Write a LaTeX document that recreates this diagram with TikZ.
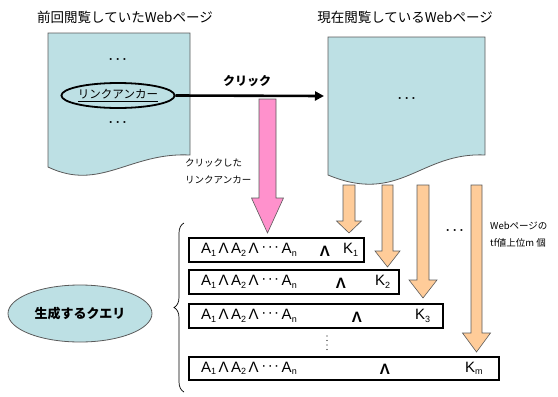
\documentclass[tikz,border=0pt]{standalone}
\usepackage{fontspec}
\setmainfont{Liberation Sans}
\newfontfamily\jp{Noto Sans CJK JP}
\usetikzlibrary{shapes.geometric,arrows.meta,decorations.pathreplacing}
\definecolor{pagefill}{RGB}{189,224,228}
\definecolor{pageline}{RGB}{90,90,90}
\definecolor{pinkfill}{RGB}{255,145,204}
\definecolor{orangefill}{RGB}{255,204,153}
\newcommand{\fatdown}[7]{\draw[#1] (#2-#3,#4) -- (#2+#3,#4) -- (#2+#3,#5) -- (#2+#6,#5) -- (#2,#7) -- (#2-#6,#5) -- (#2-#3,#5) -- cycle;}
\newcommand{\lowsub}[1]{\raisebox{-2.5pt}{\fontsize{9}{9}\selectfont #1}}
\newcommand{\andexpr}{A\lowsub{1}\,Λ\,A\lowsub{2}\,Λ\,\raisebox{2pt}{·\hspace{1.5pt}·\hspace{1.5pt}·}\,A\lowsub{n}}
\tikzset{
  page/.style={fill=pagefill, draw=pageline, line width=0.8pt},
  pinkarrow/.style={fill=pinkfill, draw=pageline, line width=0.6pt},
  orangearrow/.style={fill=orangefill, draw=pageline, line width=0.6pt},
  title/.style={font=\jp\fontsize{13.5}{15}\selectfont, inner sep=0pt},
  jplabel/.style={font=\jp\fontsize{12}{14}\selectfont, inner sep=0pt},
  smalljp/.style={font=\jp\fontsize{9.5}{17}\selectfont, inner sep=0pt, align=left},
  qbox/.style={draw=black, line width=1.1pt, minimum height=24pt, inner sep=0pt},
  expr/.style={font=\fontsize{15}{15}\selectfont, inner sep=0pt, anchor=west},
  wedge/.style={font=\bfseries\fontsize{15}{15}\selectfont, inner sep=0pt},
  kterm/.style={font=\fontsize{15}{15}\selectfont, inner sep=0pt, anchor=west},
  dots/.style={font=\bfseries\fontsize{12}{12}\selectfont, inner sep=0pt},
  vdot/.style={fill=black, circle, inner sep=0pt, minimum size=1.3pt},
}
\begin{document}
\begin{tikzpicture}[x=1pt,y=-1pt]
\useasboundingbox (0,0) rectangle (558,397);
% titles
\node[title] (t1) at (125,17) {前回閲覧していたWebページ};
\node[title] (t2) at (405,17) {現在閲覧しているWebページ};
% orange arrows (behind page)
\fatdown{orangearrow}{349}{6}{185}{221}{12.5}{233}
\fatdown{orangearrow}{387.5}{5.5}{185}{251}{12.5}{267}
\fatdown{orangearrow}{423}{6}{185}{280}{14}{298}
\fatdown{orangearrow}{476.5}{5.5}{185}{333}{14}{352}
% pages
\draw[page] (48,33) -- (190,33) -- (190,155) .. controls (130,152) and (100,192) .. (48,167) -- cycle;
\draw[page] (328,37) -- (485,37) -- (485,155) .. controls (420,152) and (400,205) .. (328,175) -- cycle;
\node[dots] (d1) at (118,61) {·\hspace{3pt}·\hspace{3pt}·};
\node[dots] (d2) at (118,124) {·\hspace{3pt}·\hspace{3pt}·};
\node[dots] (d3) at (407,100) {·\hspace{3pt}·\hspace{3pt}·};
% link anchor
\node[draw=black, line width=1.8pt, ellipse, minimum width=96pt, minimum height=25pt, inner sep=0pt, font=\jp\fontsize{11.5}{13}\selectfont] (anc) at (118,95.5) {\underline{リンクアンカー}};
\coordinate (rpin) at (324,96);
\draw[line width=2.6pt, -{Triangle[length=9pt,width=9pt]}] (anc.east) -- (rpin);
\node[jplabel, font=\jp\bfseries\fontsize{12}{14}\selectfont] (click) at (247,81) {クリック};
% pink arrow
\fatdown{pinkarrow}{267.5}{8.5}{99}{198}{16}{233}
\node[smalljp, anchor=north west] (cl) at (185,159) {クリックした\\リンクアンカー};
% dots and label right
\node[dots] (d4) at (455,232) {·\hspace{3pt}·\hspace{3pt}·};
\node[smalljp, anchor=north west] (tf) at (490,222) {Webページの\\tf値上位m 個};
% query boxes
\node[qbox, minimum width=175pt] (q1) at (276.5,250) {};
\node[qbox, minimum width=210pt] (q2) at (294,282) {};
\node[qbox, minimum width=254pt] (q3) at (316,316) {};
\node[qbox, minimum width=310pt, minimum height=23pt] (q4) at (344,368.5) {};
\node[expr] (e1) at (201,250) {\andexpr};
\node[expr] (e2) at (201,282) {\andexpr};
\node[expr] (e3) at (201,316) {\andexpr};
\node[expr] (e4) at (201,368.5) {\andexpr};
\node[wedge] (w1) at (325,251) {Λ};
\node[wedge] (w2) at (341,283) {Λ};
\node[wedge] (w3) at (357,317) {Λ};
\node[wedge] (w4) at (385,369.5) {Λ};
\node[kterm] (k1) at (343,250) {K\lowsub{1}};
\node[kterm] (k2) at (375,282) {K\lowsub{2}};
\node[kterm] (k3) at (415,316) {K\lowsub{3}};
\node[kterm] (k4) at (465,368.5) {K\lowsub{m}};
\node[vdot] (v1) at (327,336) {};
\node[vdot] (v2) at (327,340.5) {};
\node[vdot] (v3) at (327,345) {};
\node[vdot] (v4) at (327,349.5) {};
% brace and query ellipse
\draw[decorate, decoration={brace, amplitude=10pt}, line width=0.7pt] (184,392) -- (184,223);
\node[ellipse, fill=pagefill, draw=pageline, line width=0.8pt, minimum width=144pt, minimum height=57pt, inner sep=0pt, font=\jp\bfseries\fontsize{13}{15}\selectfont] (gen) at (80,313.5) {生成するクエリ};
\end{tikzpicture}
\end{document}
